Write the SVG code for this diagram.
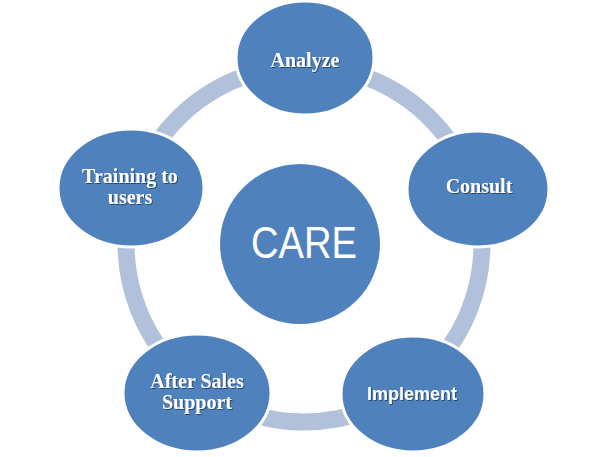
<svg xmlns="http://www.w3.org/2000/svg" width="608" height="457" viewBox="0 0 608 457">
<defs>
<filter id="sh" x="-20%" y="-50%" width="140%" height="200%">
<feDropShadow dx="1" dy="1" stdDeviation="0.6" flood-color="#000" flood-opacity="0.45"/>
</filter>
<style>
.node{fill:#4F81BD;stroke:#fff;stroke-width:3}
.lbl{fill:#fff;font-family:"Liberation Serif",serif;font-weight:bold;font-size:20px;text-anchor:middle}
.sans{fill:#fff;font-family:"Liberation Sans",Arial,sans-serif;font-weight:bold;font-size:18px;text-anchor:middle}
.ring{fill:none;stroke:#B2C1DB;stroke-width:17}
</style>
</defs>
<rect width="608" height="457" fill="#fff"/>
<g id="connectors">
<circle class="ring" cx="304" cy="244" r="178"/>
</g>
<g id="care">
<circle cx="300" cy="244" r="80" fill="#4F81BD"/>
<text x="304" y="258" fill="#fff" font-family="'Liberation Sans',Arial,sans-serif" font-size="44" text-anchor="middle" textLength="106" lengthAdjust="spacingAndGlyphs">CARE</text>
</g>
<g id="analyze">
<ellipse class="node" cx="305" cy="58" rx="69" ry="57"/>
<text class="lbl" x="305" y="67" filter="url(#sh)">Analyze</text>
</g>
<g id="consult">
<ellipse class="node" cx="478" cy="189" rx="71" ry="58"/>
<text class="lbl" x="479" y="193" filter="url(#sh)">Consult</text>
</g>
<g id="implement">
<ellipse class="node" cx="413" cy="394" rx="72" ry="58"/>
<text class="sans" x="412" y="400" filter="url(#sh)">Implement</text>
</g>
<g id="aftersales">
<ellipse class="node" cx="197" cy="393" rx="74" ry="59"/>
<text class="lbl" x="197" y="388" filter="url(#sh)">After Sales</text>
<text class="lbl" x="197" y="409" filter="url(#sh)">Support</text>
</g>
<g id="training">
<ellipse class="node" cx="131" cy="188" rx="73" ry="59"/>
<text class="lbl" x="130" y="183" filter="url(#sh)">Training to</text>
<text class="lbl" x="130" y="204" filter="url(#sh)">users</text>
</g>
</svg>
